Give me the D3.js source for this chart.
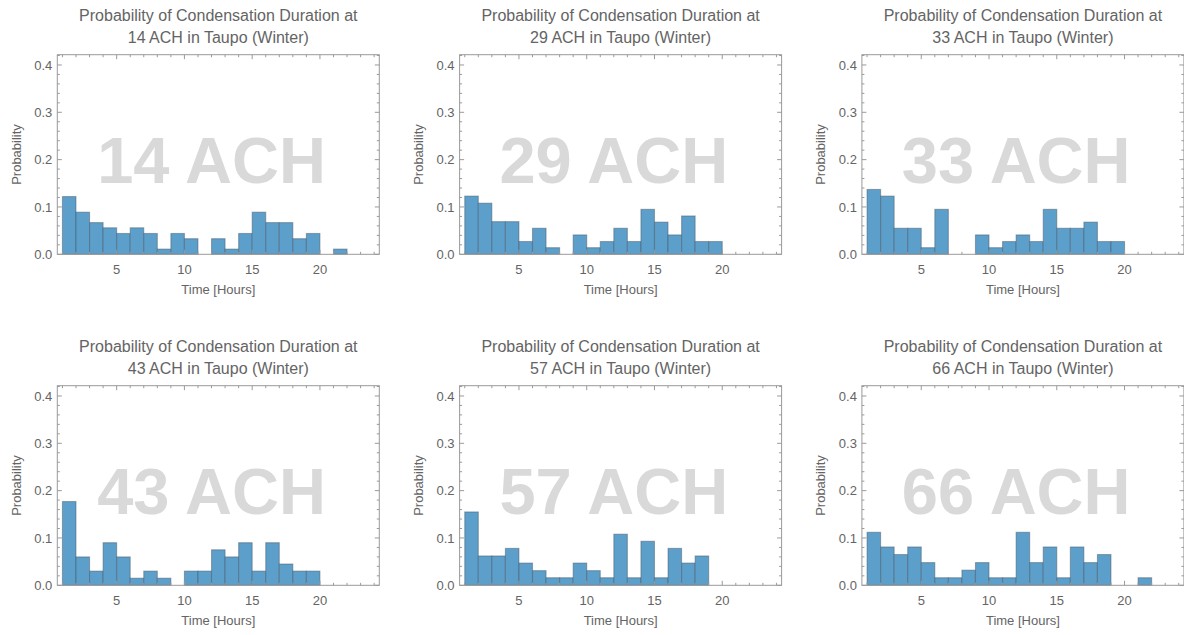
<!DOCTYPE html>
<html>
<head>
<meta charset="utf-8">
<script src="https://cdn.jsdelivr.net/npm/d3@7"></script>
<style>
  html, body { margin: 0; padding: 0; background: #ffffff; }
  svg { display: block; font-family: "Liberation Sans", Arial, sans-serif; }
</style>
</head>
<body>
<svg id="chart" width="1184" height="635"></svg>
<script>
// Air-change rates, one panel each
const achLevels = [14, 29, 33, 43, 57, 66];

// Left edge (hour) of each one-hour bin
const binStarts = [1, 2, 3, 4, 5, 6, 7, 8, 9, 10, 11, 12, 13, 14, 15, 16, 17, 18, 19, 20, 21, 22, 23];

// Probability of each condensation duration bin
const prob14 = [0.122, 0.089, 0.067, 0.056, 0.044, 0.056, 0.044, 0.011, 0.044, 0.033, 0, 0.033, 0.011, 0.044, 0.089, 0.067, 0.067, 0.033, 0.044, 0, 0.011];
const prob29 = [0.123, 0.108, 0.069, 0.069, 0.027, 0.055, 0.014, 0, 0.041, 0.014, 0.027, 0.055, 0.027, 0.095, 0.068, 0.041, 0.081, 0.027, 0.027];
const prob33 = [0.137, 0.123, 0.055, 0.055, 0.014, 0.095, 0, 0, 0.041, 0.014, 0.027, 0.041, 0.027, 0.095, 0.055, 0.055, 0.068, 0.027, 0.027];
const prob43 = [0.177, 0.060, 0.030, 0.090, 0.060, 0.015, 0.030, 0.015, 0, 0.030, 0.030, 0.075, 0.060, 0.090, 0.030, 0.090, 0.045, 0.030, 0.030];
const prob57 = [0.155, 0.062, 0.062, 0.078, 0.047, 0.031, 0.016, 0.016, 0.047, 0.031, 0.016, 0.108, 0.016, 0.093, 0.016, 0.078, 0.047, 0.062];
const prob66 = [0.112, 0.081, 0.065, 0.081, 0.048, 0.016, 0.016, 0.032, 0.048, 0.016, 0.016, 0.112, 0.048, 0.081, 0.016, 0.081, 0.048, 0.065, 0, 0, 0.016];

const seriesList = [prob14, prob29, prob33, prob43, prob57, prob66];

// Axis ticks
const xMajorTicks = [5, 10, 15, 20];
const xMinorTicks = [1, 2, 3, 4, 6, 7, 8, 9, 11, 12, 13, 14, 16, 17, 18, 19, 21, 22, 23, 24];
const yMajorTicks = [0, 0.1, 0.2, 0.3, 0.4];
const yMinorTicks = [0.02, 0.04, 0.06, 0.08, 0.12, 0.14, 0.16, 0.18, 0.22, 0.24, 0.26, 0.28, 0.32, 0.34, 0.36, 0.38, 0.42];

const xDomain = [0.62, 24.38];
const yDomain = [0, 0.4217];

// Layout
const plotW = 322, plotH = 199.6;
const colStep = 402.3, rowStep = 331;
const firstLeft = 57.3, firstTop = 54.7;

const frameColor = "#9a9a9a";
const textColor = "#646464";
const barFill = "#5b9fca";

const svg = d3.select("#chart");

seriesList.forEach((series, i) => {
  const col = i % 3, row = Math.floor(i / 3);
  const left = firstLeft + col * colStep;
  const top = firstTop + row * rowStep;
  const ach = achLevels[i];

  const x = d3.scaleLinear().domain(xDomain).range([0, plotW]);
  const y = d3.scaleLinear().domain(yDomain).range([plotH, 0]);

  const g = svg.append("g").attr("transform", `translate(${left},${top})`);

  // Title (two lines)
  const title = g.append("text")
    .attr("x", plotW / 2).attr("y", -34)
    .attr("text-anchor", "middle")
    .attr("font-size", 16).attr("fill", textColor);
  title.append("tspan").attr("x", plotW / 2).attr("dy", 0)
    .text("Probability of Condensation Duration at");
  title.append("tspan").attr("x", plotW / 2).attr("dy", 22)
    .text(`${ach} ACH in Taupo (Winter)`);

  // Large background label
  g.append("text")
    .attr("x", x(12)).attr("y", y(0.2) + 23.3)
    .attr("text-anchor", "middle")
    .attr("font-size", 65).attr("font-weight", "bold")
    .attr("fill", "#d9d9d9")
    .text(`${ach} ACH`);

  // Histogram bars
  const bins = series.map((p, k) => ({ x0: binStarts[k], x1: binStarts[k] + 1, p }))
    .filter(d => d.p > 0);
  g.append("g").selectAll("rect").data(bins).join("rect")
    .attr("x", d => x(d.x0))
    .attr("y", d => y(d.p))
    .attr("width", d => x(d.x1) - x(d.x0))
    .attr("height", d => y(0) - y(d.p))
    .attr("fill", barFill)
    .attr("stroke", "rgba(70,85,100,0.45)")
    .attr("stroke-width", 1.1);

  // Frame
  g.append("rect")
    .attr("x", 0).attr("y", 0).attr("width", plotW).attr("height", plotH)
    .attr("fill", "none").attr("stroke", frameColor).attr("stroke-width", 1);

  // Ticks on all four sides, pointing inward
  const tickG = g.append("g").attr("stroke", frameColor).attr("stroke-width", 1);
  const xTicks = xMajorTicks.map(v => ({ v, len: 4.5 })).concat(xMinorTicks.map(v => ({ v, len: 2.5 })));
  const yTicks = yMajorTicks.map(v => ({ v, len: 4.5 })).concat(yMinorTicks.map(v => ({ v, len: 2.5 })));
  xTicks.forEach(t => {
    const px = x(t.v);
    tickG.append("line").attr("x1", px).attr("x2", px).attr("y1", plotH).attr("y2", plotH - t.len);
    tickG.append("line").attr("x1", px).attr("x2", px).attr("y1", 0).attr("y2", t.len);
  });
  yTicks.forEach(t => {
    const py = y(t.v);
    tickG.append("line").attr("x1", 0).attr("x2", t.len).attr("y1", py).attr("y2", py);
    tickG.append("line").attr("x1", plotW).attr("x2", plotW - t.len).attr("y1", py).attr("y2", py);
  });

  // Tick labels
  g.append("g").selectAll("text").data(xMajorTicks).join("text")
    .attr("x", d => x(d)).attr("y", plotH + 19.5)
    .attr("text-anchor", "middle").attr("font-size", 13).attr("fill", textColor)
    .text(d => d);
  g.append("g").selectAll("text").data(yMajorTicks).join("text")
    .attr("x", -5).attr("y", d => y(d) + 4.6)
    .attr("text-anchor", "end").attr("font-size", 13).attr("fill", textColor)
    .text(d => d3.format(".1f")(d));

  // Axis titles
  g.append("text")
    .attr("x", plotW / 2).attr("y", plotH + 40)
    .attr("text-anchor", "middle").attr("font-size", 13).attr("fill", textColor)
    .text("Time [Hours]");
  g.append("text")
    .attr("transform", `translate(-36.5,${plotH / 2}) rotate(-90)`)
    .attr("text-anchor", "middle").attr("font-size", 13).attr("fill", textColor)
    .text("Probability");
});
</script>
</body>
</html>
